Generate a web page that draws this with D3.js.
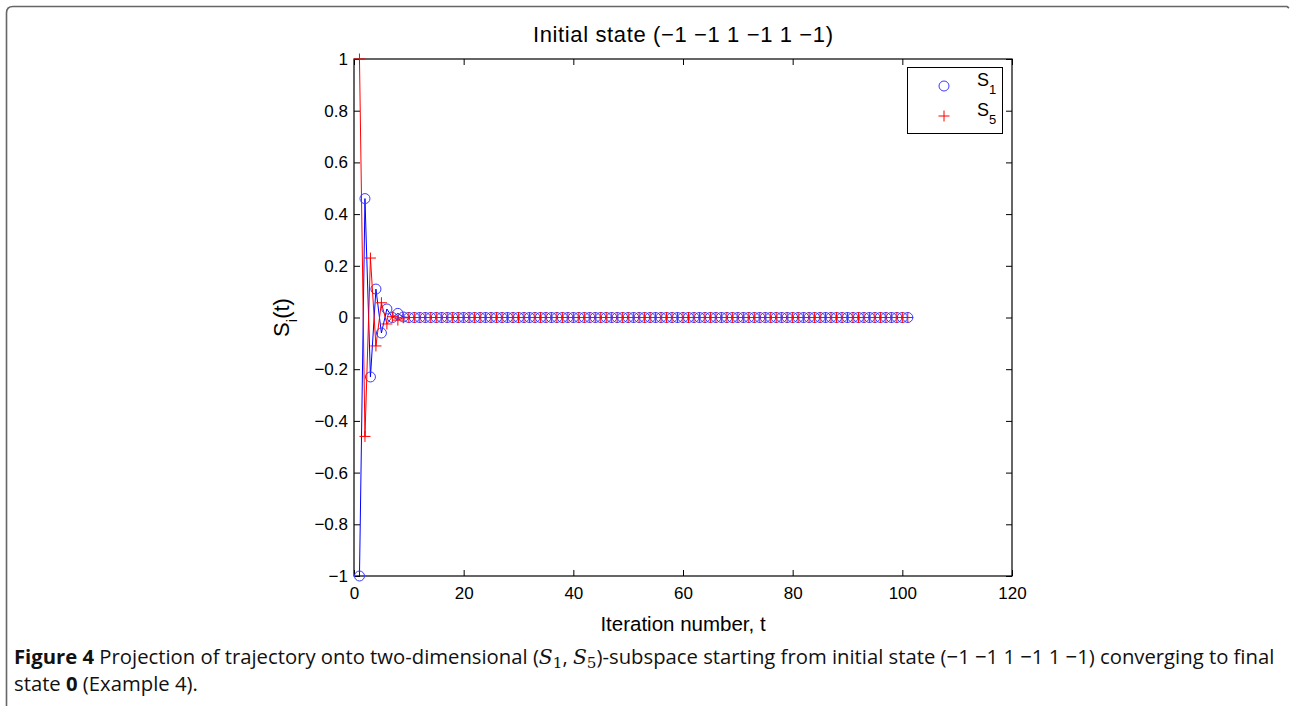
<!DOCTYPE html>
<html>
<head>
<meta charset="utf-8">
<script src="https://cdn.jsdelivr.net/npm/d3@7"></script>
<style>
  html, body { margin: 0; padding: 0; background: #fff; }
  svg { display: block; }
</style>
</head>
<body>
<svg id="fig" width="1290" height="715"></svg>
<script>
// Iteration numbers t = 1..101
const iterations = d3.range(1, 102);

// Transient part of each trajectory; after it both components sit at 0
const s1Transient = [-1, 0.46, -0.23, 0.11, -0.06, 0.033, 0.0, 0.016, 0.002];
const s5Transient = [1, -0.46, 0.23, -0.11, 0.057, -0.025, 0.003, -0.01, -0.001];

const s1Values = iterations.map((t, i) => i < s1Transient.length ? s1Transient[i] : 0);
const s5Values = iterations.map((t, i) => i < s5Transient.length ? s5Transient[i] : 0);

const xTicks = [0, 20, 40, 60, 80, 100, 120];
const yTicks = [-1, -0.8, -0.6, -0.4, -0.2, 0, 0.2, 0.4, 0.6, 0.8, 1];

const titleText = "Initial state (\u22121 \u22121 1 \u22121 1 \u22121)";
const xLabelText = "Iteration number, t";

const svg = d3.select("#fig");
const plot = { left: 354, right: 1012, top: 59, bottom: 576 };

const x = d3.scaleLinear().domain([0, 120]).range([plot.left, plot.right]);
const y = d3.scaleLinear().domain([-1, 1]).range([plot.bottom, plot.top]);

// Outer figure frame: rounded top-left corner, left and top edges
svg.append("path")
  .attr("d", "M 6.5 706 L 6.5 13 Q 6.5 6.5 13 6.5 L 1287 6.5 L 1289 8")
  .attr("fill", "none")
  .attr("stroke", "#666")
  .attr("stroke-width", 1.6);

const fmt = v => {
  const s = d3.format("")(Math.round(v * 10) / 10);
  return s.replace("-", "\u2212");
};

const axisFont = "'Liberation Sans', Arial, Helvetica, sans-serif";
const tickFontSize = 17;

// Axes with inward ticks on all four sides (boxed MATLAB style)
const tickLen = 6;
const gAxes = svg.append("g").attr("font-family", axisFont);

const bottomAxis = d3.axisBottom(x).tickValues(xTicks).tickSize(-tickLen).tickPadding(11).tickFormat(d3.format("d"));
const topAxis = d3.axisTop(x).tickValues(xTicks).tickSize(-tickLen).tickFormat("");
const leftAxis = d3.axisLeft(y).tickValues(yTicks).tickSize(-tickLen).tickPadding(6).tickFormat(fmt);
const rightAxis = d3.axisRight(y).tickValues(yTicks).tickSize(-tickLen).tickFormat("");

function styleAxis(g) {
  g.select(".domain").remove();
  g.selectAll(".tick line").attr("stroke", "#000").attr("stroke-width", 1);
  g.selectAll(".tick text").attr("fill", "#000").attr("font-size", tickFontSize).attr("font-family", axisFont);
}

gAxes.append("g").attr("transform", `translate(0,${plot.bottom})`).call(bottomAxis).call(styleAxis);
gAxes.append("g").attr("transform", `translate(0,${plot.top})`).call(topAxis).call(styleAxis);
gAxes.append("g").attr("transform", `translate(${plot.left},0)`).call(leftAxis).call(styleAxis);
gAxes.append("g").attr("transform", `translate(${plot.right},0)`).call(rightAxis).call(styleAxis);

svg.append("rect")
  .attr("x", plot.left).attr("y", plot.top)
  .attr("width", plot.right - plot.left).attr("height", plot.bottom - plot.top)
  .attr("fill", "none").attr("stroke", "#000").attr("stroke-width", 1.2);

// Series
const line = d3.line().x(d => x(d.t)).y(d => y(d.v));
const s1Data = iterations.map((t, i) => ({ t, v: s1Values[i] }));
const s5Data = iterations.map((t, i) => ({ t, v: s5Values[i] }));

const blue = "#0000ff", markerBlue = "#3a3aff", red = "#ff0000";

svg.append("path").datum(s1Data).attr("d", line)
  .attr("fill", "none").attr("stroke", blue).attr("stroke-width", 1);
svg.append("g").selectAll("circle").data(s1Data).join("circle")
  .attr("cx", d => x(d.t)).attr("cy", d => y(d.v)).attr("r", 5)
  .attr("fill", "none").attr("stroke", markerBlue).attr("stroke-width", 1);

svg.append("path").datum(s5Data).attr("d", line)
  .attr("fill", "none").attr("stroke", red).attr("stroke-width", 1);
const plusHalf = 5.5;
svg.append("g").selectAll("path").data(s5Data).join("path")
  .attr("d", d => {
    const cx = x(d.t), cy = y(d.v);
    return `M${cx - plusHalf},${cy}H${cx + plusHalf}M${cx},${cy - plusHalf}V${cy + plusHalf}`;
  })
  .attr("fill", "none").attr("stroke", red).attr("stroke-width", 1);

// Title
svg.append("text")
  .attr("x", (plot.left + plot.right) / 2).attr("y", 42)
  .attr("text-anchor", "middle").attr("font-family", axisFont).attr("font-size", 22)
  .attr("textLength", 300).attr("lengthAdjust", "spacing")
  .text(titleText);

// x label
svg.append("text")
  .attr("x", (plot.left + plot.right) / 2).attr("y", 631)
  .attr("text-anchor", "middle").attr("font-family", axisFont).attr("font-size", 20.5)
  .text(xLabelText);

// y label: S_i(t)
const yl = svg.append("text")
  .attr("transform", `translate(289,${(plot.top + plot.bottom) / 2}) rotate(-90)`)
  .attr("text-anchor", "middle").attr("font-family", axisFont).attr("font-size", 22);
yl.append("tspan").text("S");
yl.append("tspan").attr("font-size", 15).attr("dy", 8).text("i");
yl.append("tspan").attr("dy", -8).text("(t)");

// Legend
const legend = svg.append("g").attr("font-family", axisFont);
legend.append("rect")
  .attr("x", 907.5).attr("y", 67.5).attr("width", 95).attr("height", 66)
  .attr("fill", "#fff").attr("stroke", "#000").attr("stroke-width", 1);
const legendItems = [
  { name: "S", sub: "1", kind: "circle", cy: 86 },
  { name: "S", sub: "5", kind: "plus", cy: 116 }
];
legendItems.forEach(item => {
  if (item.kind === "circle") {
    legend.append("circle").attr("cx", 944).attr("cy", item.cy).attr("r", 5)
      .attr("fill", "none").attr("stroke", markerBlue).attr("stroke-width", 1);
  } else {
    legend.append("path")
      .attr("d", `M${944 - plusHalf},${item.cy}H${944 + plusHalf}M944,${item.cy - plusHalf}V${item.cy + plusHalf}`)
      .attr("stroke", red).attr("stroke-width", 1);
  }
  const t = legend.append("text").attr("x", 977).attr("y", item.cy).attr("font-size", 18);
  t.append("tspan").text(item.name);
  t.append("tspan").attr("font-size", 13).attr("dy", 8).text(item.sub);
});

// Caption
const capFont = "'Open Sans', 'Noto Sans', sans-serif";
const mathFont = "'DejaVu Serif', 'Liberation Serif', serif";
const cap1 = svg.append("text").attr("x", 14).attr("y", 664)
  .attr("font-family", capFont).attr("font-size", 16).attr("fill", "#111");
const parts1 = [
  { t: "Figure 4", w: "bold" },
  { t: " Projection of trajectory onto two-dimensional (" },
  { t: "S", m: true },
  { t: "1", m: true, sub: true },
  { t: ", " },
  { t: "S", m: true },
  { t: "5", m: true, sub: true },
  { t: ")-subspace starting from initial state (\u22121 \u22121 1 \u22121 1 \u22121) converging to final" }
];
let subOn = false;
parts1.forEach(p => {
  const ts = cap1.append("tspan").text(p.t);
  if (p.w) ts.attr("font-weight", p.w);
  if (p.m) ts.attr("font-family", mathFont).attr("font-style", p.sub ? "normal" : "italic");
  if (p.sub) { ts.attr("font-size", "0.75em").attr("dy", 4); subOn = true; }
  else if (subOn) { ts.attr("dy", -4); subOn = false; }
});
const cap2 = svg.append("text").attr("x", 14).attr("y", 691)
  .attr("font-family", capFont).attr("font-size", 16).attr("fill", "#111");
cap2.append("tspan").text("state ");
cap2.append("tspan").attr("font-weight", "bold").text("0");
cap2.append("tspan").text(" (Example 4).");

// Fit caption font size so line 1 spans the figure width
const targetW = 1261;
const w1 = cap1.node().getComputedTextLength();
const fs = 16 * targetW / w1;
cap1.attr("font-size", fs);
cap2.attr("font-size", fs);
</script>
</body>
</html>
